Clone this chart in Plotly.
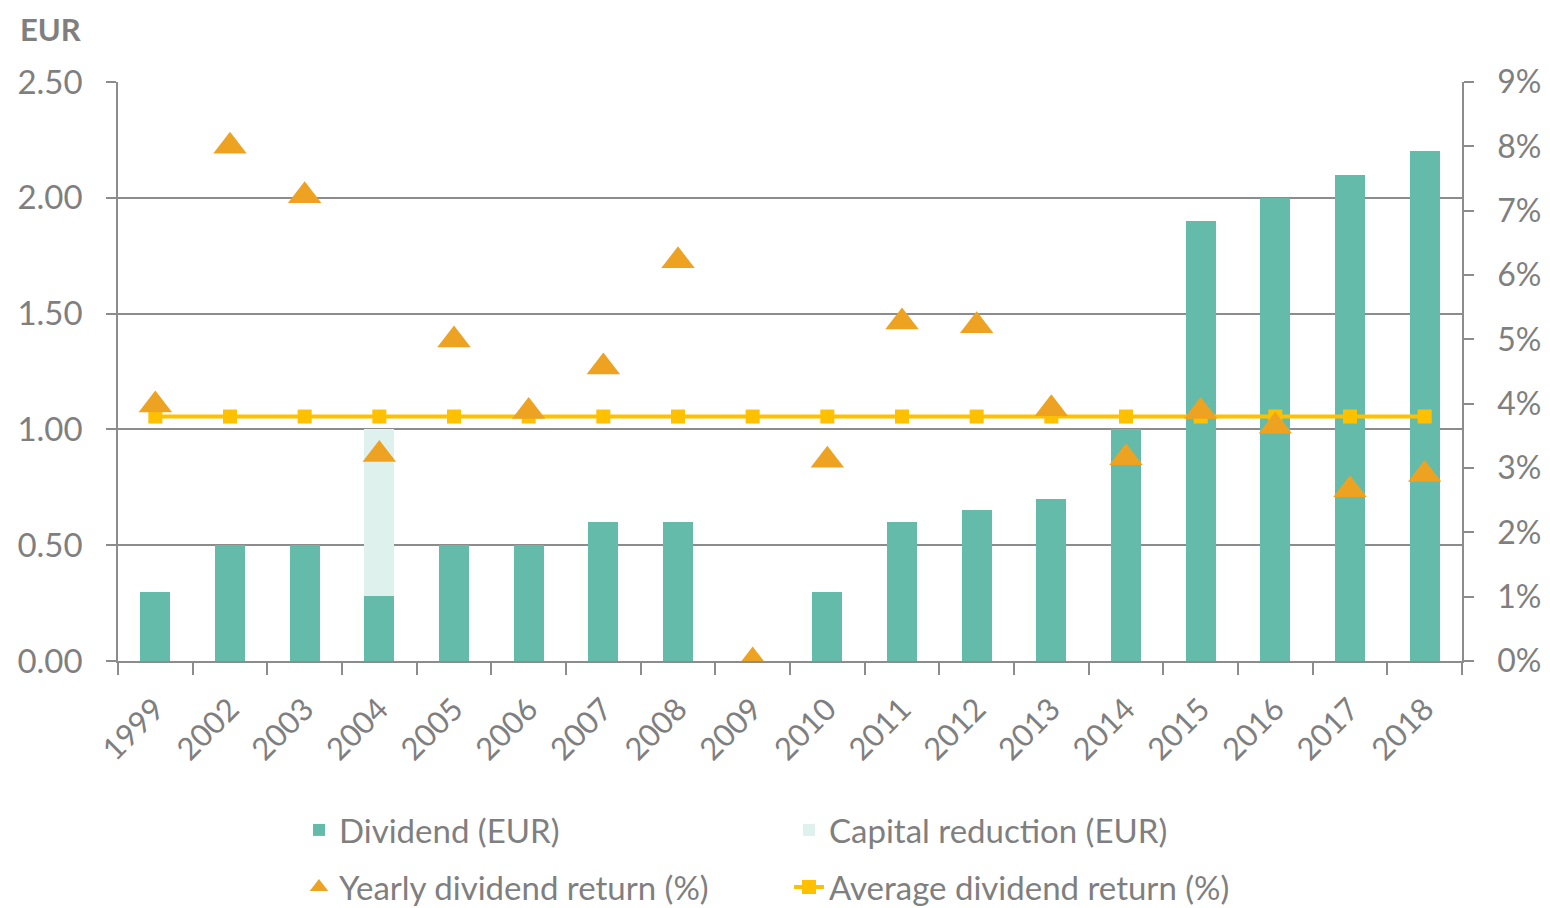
import plotly.graph_objects as go

years = ["1999", "2002", "2003", "2004", "2005", "2006", "2007", "2008", "2009",
         "2010", "2011", "2012", "2013", "2014", "2015", "2016", "2017", "2018"]
dividend = [0.30, 0.50, 0.50, 0.28, 0.50, 0.50, 0.60, 0.60, 0.00,
            0.30, 0.60, 0.65, 0.70, 1.00, 1.90, 2.00, 2.10, 2.20]
capital_reduction = [0, 0, 0, 0.72, 0, 0, 0, 0, 0,
                     0, 0, 0, 0, 0, 0, 0, 0, 0]
yearly_return = [3.98, 8.00, 7.23, 3.21, 4.99, 3.88, 4.57, 6.22, 0.00,
                 3.12, 5.27, 5.21, 3.92, 3.16, 3.88, 3.65, 2.66, 2.90]
average_return = [3.80] * len(years)
left_ticks = [0, 0.5, 1.0, 1.5, 2.0, 2.5]
left_labels = ["0.00", "0.50", "1.00", "1.50", "2.00", "2.50"]
right_ticks = [0, 1, 2, 3, 4, 5, 6, 7, 8, 9]
right_labels = ["0%", "1%", "2%", "3%", "4%", "5%", "6%", "7%", "8%", "9%"]

GREY = "#7f7f7f"
AXIS = "#8c8c8c"
FONT = "Lato"

fig = go.Figure()
fig.add_trace(go.Bar(x=years, y=dividend, name="Dividend (EUR)",
                     marker=dict(color="#65BBA9", line=dict(width=0)),
                     legend="legend"))
fig.add_trace(go.Bar(x=years, y=capital_reduction, name="Capital reduction (EUR)",
                     marker=dict(color="#DFF1EC", line=dict(width=0)),
                     legend="legend"))
fig.add_trace(go.Scatter(x=years, y=average_return, name="Average dividend return (%)",
                         mode="lines+markers", yaxis="y2",
                         line=dict(color="#FFC000", width=4),
                         marker=dict(symbol="square", size=14, color="#FFC000"),
                         legend="legend2", legendrank=2))
fig.add_trace(go.Scatter(x=years, y=yearly_return, name="Yearly dividend return (%)",
                         mode="markers", yaxis="y2",
                         marker=dict(symbol="triangle-up", size=29, color="#EDA321"),
                         legend="legend2", legendrank=1))

fig.update_layout(
    width=1542, height=900,
    margin=dict(l=110, r=88, t=74, b=247, autoexpand=False),
    plot_bgcolor="white", paper_bgcolor="white",
    barmode="stack", bargap=0.6,
    font=dict(family=FONT, size=33, color=GREY),
    xaxis=dict(type="category", range=[-0.5, len(years) - 0.5],
               showline=True, linecolor=AXIS, linewidth=1.5,
               ticks="outside", tickson="boundaries", ticklen=12, tickcolor=AXIS,
               tickwidth=1.5, tickangle=-45, tickfont=dict(size=31, color=GREY),
               ticklabelstandoff=16,
               showgrid=False, automargin=False),
    yaxis=dict(range=[0, 2.5], tickvals=left_ticks, ticktext=left_labels,
               showline=True, linecolor=AXIS, linewidth=1.5,
               showgrid=True, gridcolor=AXIS, gridwidth=1.5,
               ticks="outside", ticklen=10, tickcolor=AXIS, tickwidth=1.5,
               ticklabelstandoff=17, tickfont=dict(size=33, color=GREY),
               zeroline=False, automargin=False),
    yaxis2=dict(range=[0, 9], tickvals=right_ticks, ticktext=right_labels,
                overlaying="y", side="right", showline=True, linecolor=AXIS,
                linewidth=1.5, showgrid=False, ticks="outside", ticklen=10,
                tickcolor=AXIS, tickwidth=1.5, ticklabelstandoff=17,
                tickfont=dict(size=32, color=GREY), zeroline=False, automargin=False),
    legend=dict(orientation="h", xref="container", yref="container",
                x=0.1887, xanchor="left", y=0.0867, yanchor="middle",
                entrywidth=445, font=dict(size=33, color=GREY),
                bgcolor="rgba(0,0,0,0)", traceorder="normal"),
    legend2=dict(orientation="h", xref="container", yref="container",
                 x=0.1887, xanchor="left", y=0.0233, yanchor="middle",
                 entrywidth=445, font=dict(size=33, color=GREY),
                 bgcolor="rgba(0,0,0,0)", traceorder="normal"),
    annotations=[dict(text="<b>EUR</b>", x=(11 - 110) / 1344, y=(653 - 1) / 579,
                      xref="paper", yref="paper", showarrow=False,
                      xanchor="left", yanchor="top", borderpad=0,
                      font=dict(size=31, color=GREY))],
)

fig.write_html("out.html")
